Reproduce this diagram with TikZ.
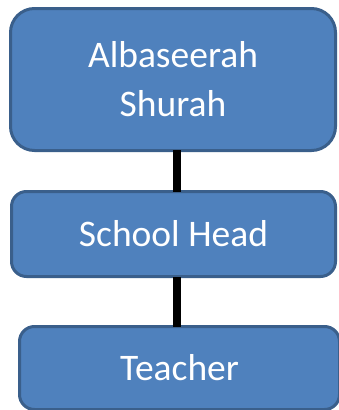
\documentclass[tikz,border=0pt]{standalone}
\usepackage{fontspec}
\setmainfont{Carlito}
\definecolor{boxfill}{HTML}{4F81BD}
\definecolor{boxline}{HTML}{3A5F8B}
\begin{document}
\begin{tikzpicture}[x=1pt,y=-1pt,
  orgbox/.style={draw=boxline, line width=3pt, fill=boxfill, text=white,
    font=\fontsize{37.5}{49}\selectfont, align=center, inner sep=0pt},
  conn/.style={draw=black, line width=8pt}]
\useasboundingbox (0,0) rectangle (339,410);
\node[orgbox, rounded corners=24pt, minimum width=325pt, minimum height=142pt]
  (top) at (173,79.5) {\raisebox{-3pt}{\parbox{300pt}{\centering Albaseerah\\Shurah}}};
\node[orgbox, rounded corners=15pt, minimum width=324pt, minimum height=85pt]
  (mid) at (173.5,234) {School Head};
\node[orgbox, rounded corners=15pt, minimum width=320pt, minimum height=83pt]
  (bot) at (179.5,368) {Teacher};
\coordinate (cx) at (177,0);
\draw[conn] ([yshift=2pt]top.south -| cx) -- ([yshift=-2pt]mid.north -| cx);
\draw[conn] ([yshift=1pt]mid.south -| cx) -- ([yshift=-2pt]bot.north -| cx);
\end{tikzpicture}
\end{document}
